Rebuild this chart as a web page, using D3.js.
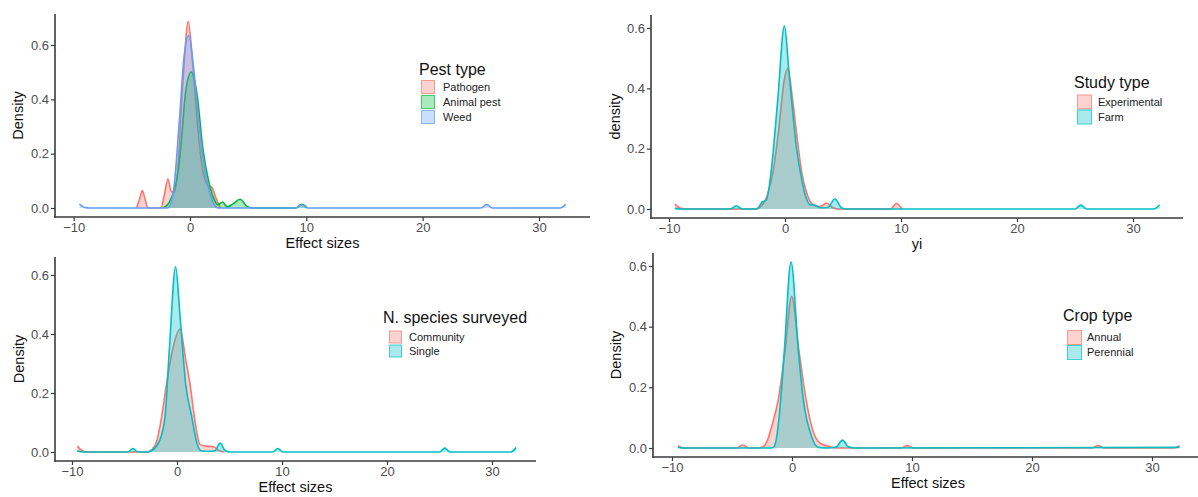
<!DOCTYPE html>
<html><head><meta charset="utf-8">
<script src="https://cdn.jsdelivr.net/npm/d3@7"></script>
<style>
body{margin:0;background:#fff}
svg{display:block}
text{font-family:"Liberation Sans",Arial,sans-serif}
</style>
</head><body>
<svg id="c" width="1198" height="497"></svg>
<script>
// ---------------- data ----------------
const xTicks = [-10, 0, 10, 20, 30];
const yTicks = [0, 0.2, 0.4, 0.6];

// Panel 1: Pest type
const pestTypes = ["Pathogen", "Animal pest", "Weed"];
const pathogen = [[-4.6,0],[-4.35,0.03],[-4.1,0.064],[-3.85,0.03],[-3.6,0],[-2.5,0],[-2.2,0.05],[-1.9,0.107],[-1.6,0.06],[-1.3,0.06],[-1.0,0.18],[-0.6,0.47],[-0.15,0.686],[0.25,0.52],[0.7,0.28],[1.1,0.14],[1.5,0.085],[1.9,0.075],[2.2,0.04],[2.6,0]];
const animalPest = [[-2.3,0],[-1.8,0.02],[-1.4,0.06],[-1.0,0.14],[-0.7,0.27],[-0.4,0.42],[0.1,0.5],[0.6,0.42],[1.1,0.22],[1.6,0.1],[2.0,0.04],[2.4,0.012],[2.8,0.022],[3.2,0.004],[3.7,0.015],[4.3,0.032],[4.9,0.006],[5.4,0],[9.1,0],[9.6,0.014],[10.1,0]];
const weed = [[-9.5,0.014],[-9.1,0.003],[-8.6,0],[-1.9,0],[-1.4,0.07],[-0.95,0.3],[-0.5,0.56],[-0.1,0.635],[0.3,0.52],[0.7,0.34],[1.1,0.19],[1.5,0.09],[1.9,0.03],[2.4,0],[9.1,0],[9.6,0.012],[10.1,0],[25.0,0],[25.5,0.013],[26.0,0],[31.8,0],[32.3,0.014]];

// Panel 2: Study type
const studyTypes = ["Experimental", "Farm"];
const experimental = [[-9.5,0.016],[-9.1,0.004],[-8.6,0],[-2.6,0],[-2.0,0.012],[-1.5,0.05],[-1.05,0.12],[-0.55,0.26],[-0.1,0.42],[0.25,0.466],[0.6,0.38],[1.0,0.25],[1.45,0.12],[1.9,0.05],[2.4,0.015],[3.0,0.008],[3.6,0.02],[4.1,0.005],[4.6,0],[9.1,0],[9.6,0.018],[10.1,0]];
const farm = [[-9.5,0.002],[-9.0,0],[-4.7,0],[-4.2,0.011],[-3.7,0],[-2.4,0],[-2.0,0.022],[-1.6,0.03],[-1.15,0.14],[-0.63,0.36],[-0.05,0.607],[0.35,0.45],[0.57,0.36],[1.0,0.2],[1.45,0.096],[1.8,0.04],[2.15,0.015],[2.6,0.012],[3.1,0.004],[3.7,0.006],[4.3,0.033],[4.9,0.003],[5.3,0],[25.0,0],[25.5,0.013],[26.0,0],[31.8,0],[32.3,0.014]];

// Panel 3: N. species surveyed
const speciesTypes = ["Community", "Single"];
const community = [[-9.5,0.02],[-9.1,0.006],[-8.6,0],[-2.8,0],[-2.4,0.008],[-1.9,0.04],[-1.46,0.12],[-1.0,0.23],[-0.4,0.35],[0.3,0.417],[0.8,0.32],[1.24,0.23],[1.65,0.12],[2.2,0.025],[2.8,0.02],[3.5,0.018],[4.0,0.005],[4.5,0]];
const single = [[-9.5,0.004],[-9.0,0],[-4.7,0],[-4.2,0.012],[-3.7,0],[-2.8,0],[-2.4,0.005],[-1.7,0.035],[-1.14,0.12],[-0.73,0.346],[-0.13,0.628],[0.29,0.46],[0.83,0.23],[1.4,0.12],[1.9,0.03],[2.3,0.004],[3.0,0.002],[3.6,0.004],[4.1,0.03],[4.6,0.004],[5.0,0],[9.1,0],[9.6,0.012],[10.1,0],[25.0,0],[25.5,0.013],[26.0,0],[31.8,0],[32.3,0.015]];

// Panel 4: Crop type
const cropTypes = ["Annual", "Perennial"];
const annual = [[-9.5,0.008],[-9.0,0],[-4.6,0],[-4.1,0.01],[-3.6,0],[-2.8,0],[-2.4,0.004],[-2.1,0.02],[-1.7,0.07],[-1.14,0.16],[-0.58,0.32],[-0.03,0.5],[0.58,0.32],[1.17,0.16],[1.64,0.07],[2.33,0.016],[3.2,0.004],[3.6,0],[9.1,0],[9.6,0.008],[10.1,0],[25.0,0],[25.5,0.008],[26.0,0],[31.8,0],[32.3,0.008]];
const perennial = [[-9.5,0.002],[-9.0,0],[-1.7,0],[-1.5,0.004],[-1.28,0.037],[-0.94,0.16],[-0.64,0.32],[-0.08,0.613],[0.53,0.32],[0.94,0.16],[1.64,0.037],[2.2,0.002],[3.0,0],[3.7,0.004],[4.2,0.026],[4.7,0.004],[5.2,0],[32.3,0.002]];

const colors3 = ["#F8766D", "#00BA38", "#619CFF"];
const colors2 = ["#F8766D", "#00BFC4"];

// ---------------- layout ----------------
const panels = [
  {series:[pathogen, animalPest, weed], names:pestTypes, colors:colors3,
   title:"Pest type", xlab:"Effect sizes", ylab:"Density",
   x0:190, x30:539, left:55, right:590, y0:208, y6:45, top:14, bottom:217, ylabX:23,
   leg:{tx:419, ty:75, kx:421, ks:14, rows:[87,102,117], lx:443}},
  {series:[experimental, farm], names:studyTypes, colors:colors2,
   title:"Study type", xlab:"yi", ylab:"density",
   x0:785, x30:1133, left:651, right:1183, y0:209, y6:28, top:15, bottom:218, ylabX:620,
   leg:{tx:1074, ty:88, kx:1077, ks:15, rows:[102,117], lx:1098}},
  {series:[community, single], names:speciesTypes, colors:colors2,
   title:"N. species surveyed", xlab:"Effect sizes", ylab:"Density",
   x0:177, x30:492, left:55, right:536, y0:452, y6:275, top:257, bottom:461, ylabX:24,
   leg:{tx:383, ty:323, kx:389, ks:13, rows:[337,351], lx:409}},
  {series:[annual, perennial], names:cropTypes, colors:colors2,
   title:"Crop type", xlab:"Effect sizes", ylab:"Density",
   x0:792, x30:1152, left:653, right:1210, y0:448, y6:266, top:253, bottom:457, ylabX:621, xlabX:928,
   leg:{tx:1063, ty:321, kx:1067, ks:15, rows:[337.5,352.5], lx:1087}}
];

const svg = d3.select("#c");
svg.append("rect").attr("width",1198).attr("height",497).attr("fill","#fff");
const axisCol = "#3a3a3a";
const tickCol = "#4d4d4d";

panels.forEach(p => {
  const g = svg.append("g");
  const x = d3.scaleLinear().domain([0,30]).range([p.x0, p.x30]);
  const y = d3.scaleLinear().domain([0,0.6]).range([p.y0, p.y6]);

  const area = d3.area().curve(d3.curveMonotoneX)
    .x(d => x(d[0])).y0(y(0)).y1(d => y(d[1]));
  const line = d3.line().curve(d3.curveMonotoneX)
    .x(d => x(d[0])).y(d => y(d[1]));

  p.series.forEach((s, i) => {
    g.append("path").attr("d", area(s))
      .attr("fill", p.colors[i]).attr("fill-opacity", 0.33).attr("stroke","none");
    g.append("path").attr("d", line(s))
      .attr("fill","none").attr("stroke", p.colors[i]).attr("stroke-width", 1.6)
      .attr("stroke-linejoin","round");
  });

  // axes
  const ya = g.append("g").attr("transform", `translate(${p.left},0)`)
    .call(d3.axisLeft(y).tickValues(yTicks).tickFormat(d3.format(".1f")).tickSize(4).tickPadding(2));
  const xa = g.append("g").attr("transform", `translate(0,${p.bottom})`)
    .call(d3.axisBottom(x).tickValues(xTicks).tickFormat(d3.format("d")).tickSize(4).tickPadding(2));
  [ya, xa].forEach(a => {
    a.select(".domain").remove();
    a.selectAll(".tick line").attr("stroke", axisCol).attr("stroke-width", 1.2);
    a.selectAll(".tick text").attr("fill", tickCol).style("font-size","13px")
      .style("font-family",'"Liberation Sans",Arial,sans-serif');
  });
  g.append("line").attr("x1",p.left).attr("x2",p.left).attr("y1",p.top).attr("y2",p.bottom+0.8)
    .attr("stroke",axisCol).attr("stroke-width",1.6);
  g.append("line").attr("x1",p.left-0.8).attr("x2",p.right).attr("y1",p.bottom).attr("y2",p.bottom)
    .attr("stroke",axisCol).attr("stroke-width",1.6);

  // axis titles
  g.append("text").attr("x", p.xlabX || (p.left+p.right)/2).attr("y", p.bottom+31)
    .attr("text-anchor","middle").style("font-size","14.5px").attr("fill","#111").text(p.xlab);
  g.append("text").attr("transform", `translate(${p.ylabX},${(p.top+p.bottom)/2}) rotate(-90)`)
    .attr("text-anchor","middle").style("font-size","14.5px").attr("fill","#111").text(p.ylab);

  // legend
  const L = p.leg;
  g.append("text").attr("x",L.tx).attr("y",L.ty).style("font-size","16px").attr("fill","#111").text(p.title);
  p.names.forEach((n, i) => {
    g.append("rect").attr("x",L.kx+0.5).attr("y",L.rows[i]-L.ks/2+0.5)
      .attr("width",L.ks-1).attr("height",L.ks-1)
      .attr("fill",p.colors[i]).attr("fill-opacity",0.33)
      .attr("stroke",p.colors[i]).attr("stroke-opacity",0.7).attr("stroke-width",1);
    g.append("text").attr("x",L.lx).attr("y",L.rows[i]).attr("dy","0.35em")
      .style("font-size","11px").attr("fill","#222").text(n);
  });
});
</script>
</body></html>
